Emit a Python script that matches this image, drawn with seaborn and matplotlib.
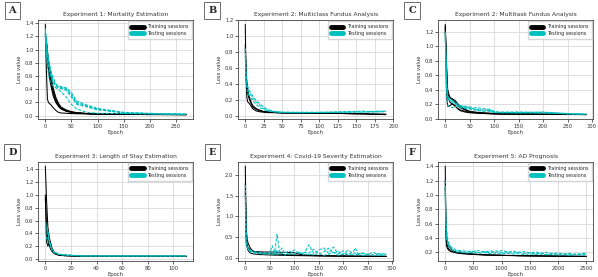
import numpy as np
import pandas as pd
import matplotlib
matplotlib.use("Agg")
import matplotlib.pyplot as plt
import seaborn as sns
from matplotlib.lines import Line2D

sns.set_style("ticks")

# ------------------------------------------------------------
# Data (loss value per epoch, per session)
# ------------------------------------------------------------
titles = ["Experiment 1: Mortality Estimation",
          "Experiment 2: Multiclass Fundus Analysis",
          "Experiment 2: Multitask Fundus Analysis",
          "Experiment 3: Length of Stay Estimation",
          "Experiment 4: Covid-19 Severity Estimation",
          "Experiment 5: AD Prognosis"]
letters = ["A", "B", "C", "D", "E", "F"]

# A - mortality
a_ep = [0, 2, 4, 6, 8, 10, 15, 20, 25, 30, 40, 50, 60, 80, 100, 150, 200, 270]
a_train = [
    [1.38, 0.70, 0.25, 0.20, 0.18, 0.17, 0.12, 0.08, 0.05, 0.04, 0.035, 0.03, 0.028, 0.025, 0.02, 0.02, 0.015, 0.015],
    [1.20, 1.15, 0.95, 0.80, 0.68, 0.58, 0.38, 0.25, 0.17, 0.12, 0.08, 0.055, 0.04, 0.03, 0.025, 0.02, 0.018, 0.015],
    [1.22, 1.10, 0.90, 0.74, 0.62, 0.52, 0.34, 0.22, 0.15, 0.11, 0.07, 0.05, 0.04, 0.03, 0.025, 0.02, 0.018, 0.015],
    [1.18, 1.12, 0.98, 0.84, 0.72, 0.62, 0.42, 0.28, 0.19, 0.13, 0.085, 0.06, 0.045, 0.032, 0.026, 0.02, 0.018, 0.016],
    [1.25, 1.05, 0.85, 0.70, 0.58, 0.48, 0.30, 0.20, 0.14, 0.10, 0.065, 0.048, 0.038, 0.03, 0.024, 0.02, 0.017, 0.015],
]
a_test = [
    [1.30, 1.10, 0.95, 0.85, 0.75, 0.68, 0.55, 0.47, 0.44, 0.43, 0.41, 0.33, 0.20, 0.15, 0.10, 0.04, 0.03, 0.02],
    [1.28, 1.05, 0.90, 0.80, 0.72, 0.64, 0.52, 0.45, 0.43, 0.42, 0.40, 0.30, 0.18, 0.14, 0.09, 0.045, 0.03, 0.025],
    [1.32, 1.12, 0.98, 0.88, 0.78, 0.70, 0.58, 0.48, 0.45, 0.44, 0.42, 0.35, 0.22, 0.16, 0.11, 0.05, 0.035, 0.02],
    [1.25, 0.95, 0.75, 0.62, 0.55, 0.50, 0.45, 0.42, 0.40, 0.36, 0.28, 0.17, 0.10, 0.05, 0.035, 0.03, 0.025, 0.02],
    [1.20, 1.00, 0.85, 0.75, 0.66, 0.60, 0.50, 0.44, 0.42, 0.41, 0.38, 0.28, 0.17, 0.13, 0.09, 0.04, 0.03, 0.02],
]

# B - multiclass fundus
b_ep = [0, 1, 2, 3, 5, 8, 10, 15, 20, 25, 30, 40, 50, 75, 100, 125, 150, 160, 170, 180, 190]
b_train = [
    [1.15, 0.50, 0.25, 0.18, 0.16, 0.12, 0.09, 0.06, 0.05, 0.045, 0.04, 0.04, 0.035, 0.035, 0.03, 0.03, 0.025, 0.025, 0.02, 0.018, 0.015],
    [0.90, 0.60, 0.45, 0.35, 0.25, 0.17, 0.13, 0.09, 0.07, 0.055, 0.05, 0.045, 0.04, 0.035, 0.03, 0.03, 0.025, 0.025, 0.02, 0.02, 0.018],
    [0.85, 0.55, 0.40, 0.30, 0.22, 0.15, 0.11, 0.08, 0.06, 0.05, 0.045, 0.04, 0.035, 0.035, 0.03, 0.03, 0.028, 0.025, 0.022, 0.02, 0.02],
]
b_test = [
    [0.85, 0.55, 0.42, 0.38, 0.33, 0.28, 0.25, 0.19, 0.15, 0.11, 0.08, 0.055, 0.045, 0.045, 0.045, 0.05, 0.055, 0.06, 0.05, 0.06, 0.055],
    [0.80, 0.50, 0.40, 0.35, 0.30, 0.25, 0.22, 0.17, 0.13, 0.09, 0.07, 0.05, 0.045, 0.04, 0.042, 0.045, 0.05, 0.045, 0.055, 0.05, 0.06],
    [0.75, 0.45, 0.35, 0.30, 0.26, 0.22, 0.19, 0.14, 0.10, 0.08, 0.06, 0.048, 0.042, 0.04, 0.04, 0.042, 0.045, 0.05, 0.045, 0.05, 0.05],
]

# C - multitask fundus
c_ep = [0, 3, 5, 8, 10, 15, 20, 25, 30, 40, 50, 60, 75, 90, 100, 110, 150, 200, 250, 288]
c_train = [
    [1.30, 0.70, 0.40, 0.32, 0.29, 0.27, 0.25, 0.21, 0.17, 0.13, 0.10, 0.09, 0.08, 0.075, 0.07, 0.07, 0.065, 0.06, 0.06, 0.055],
    [1.25, 0.60, 0.35, 0.30, 0.28, 0.26, 0.23, 0.19, 0.15, 0.12, 0.09, 0.085, 0.075, 0.07, 0.068, 0.065, 0.063, 0.06, 0.058, 0.055],
    [1.20, 0.30, 0.17, 0.17, 0.18, 0.20, 0.18, 0.14, 0.11, 0.09, 0.08, 0.075, 0.07, 0.065, 0.063, 0.06, 0.06, 0.058, 0.055, 0.055],
    [1.28, 0.55, 0.30, 0.25, 0.22, 0.20, 0.17, 0.14, 0.12, 0.10, 0.085, 0.08, 0.072, 0.068, 0.065, 0.063, 0.06, 0.058, 0.056, 0.054],
]
c_test = [
    [1.20, 0.50, 0.32, 0.28, 0.27, 0.25, 0.22, 0.20, 0.18, 0.17, 0.16, 0.15, 0.14, 0.13, 0.10, 0.09, 0.09, 0.085, 0.07, 0.06],
    [1.15, 0.45, 0.30, 0.26, 0.25, 0.23, 0.21, 0.19, 0.17, 0.16, 0.15, 0.13, 0.12, 0.12, 0.09, 0.085, 0.08, 0.09, 0.065, 0.06],
    [1.10, 0.30, 0.18, 0.17, 0.16, 0.15, 0.17, 0.16, 0.15, 0.14, 0.13, 0.12, 0.11, 0.10, 0.085, 0.08, 0.085, 0.08, 0.065, 0.06],
    [1.18, 0.40, 0.28, 0.25, 0.24, 0.22, 0.20, 0.18, 0.16, 0.15, 0.14, 0.12, 0.10, 0.11, 0.09, 0.08, 0.075, 0.075, 0.065, 0.06],
]

# D - length of stay
d_ep = [0, 1, 2, 3, 4, 5, 7, 10, 12, 15, 20, 25, 30, 50, 80, 110]
d_train = [
    [1.45, 0.90, 0.50, 0.35, 0.25, 0.18, 0.10, 0.07, 0.06, 0.055, 0.05, 0.045, 0.042, 0.04, 0.04, 0.04],
    [1.00, 0.26, 0.20, 0.25, 0.27, 0.15, 0.09, 0.06, 0.055, 0.05, 0.045, 0.042, 0.04, 0.04, 0.04, 0.038],
    [0.95, 0.50, 0.30, 0.22, 0.16, 0.12, 0.08, 0.06, 0.055, 0.05, 0.045, 0.043, 0.042, 0.04, 0.04, 0.04],
]
d_test = [
    [0.58, 0.52, 0.45, 0.30, 0.20, 0.15, 0.11, 0.08, 0.07, 0.065, 0.06, 0.05, 0.045, 0.045, 0.045, 0.045],
    [0.55, 0.48, 0.40, 0.28, 0.22, 0.16, 0.10, 0.075, 0.065, 0.06, 0.055, 0.05, 0.045, 0.044, 0.044, 0.044],
    [0.50, 0.30, 0.25, 0.26, 0.24, 0.14, 0.09, 0.07, 0.065, 0.06, 0.05, 0.048, 0.046, 0.045, 0.045, 0.045],
]

# E - covid severity (noisy testing curves)
e_ep = [0, 2, 4, 6, 10, 15, 20, 30, 40, 50, 55, 60, 65, 70, 75, 80, 90, 100, 110, 120,
        130, 140, 150, 160, 170, 180, 190, 200, 210, 220, 225, 230, 240, 250, 260, 270, 280, 288]
e_train = [
    [2.20, 0.70, 0.45, 0.35, 0.25, 0.18, 0.15, 0.13, 0.12, 0.11, 0.105, 0.10, 0.10, 0.095, 0.09, 0.09, 0.085, 0.08, 0.075, 0.07,
     0.068, 0.065, 0.062, 0.06, 0.058, 0.056, 0.055, 0.054, 0.053, 0.052, 0.051, 0.05, 0.05, 0.049, 0.048, 0.048, 0.047, 0.046],
    [1.80, 0.50, 0.30, 0.25, 0.20, 0.17, 0.16, 0.155, 0.15, 0.15, 0.15, 0.148, 0.146, 0.145, 0.143, 0.14, 0.14, 0.13, 0.10, 0.08,
     0.075, 0.07, 0.066, 0.063, 0.06, 0.058, 0.056, 0.055, 0.054, 0.053, 0.052, 0.05, 0.05, 0.049, 0.048, 0.047, 0.046, 0.046],
    [1.60, 0.40, 0.25, 0.18, 0.13, 0.11, 0.10, 0.09, 0.085, 0.08, 0.078, 0.076, 0.075, 0.073, 0.072, 0.07, 0.068, 0.066, 0.064, 0.062,
     0.06, 0.058, 0.056, 0.055, 0.054, 0.053, 0.052, 0.051, 0.05, 0.05, 0.049, 0.048, 0.048, 0.047, 0.046, 0.046, 0.045, 0.045],
]
e_test = [
    [1.75, 0.30, 0.28, 0.25, 0.20, 0.17, 0.15, 0.14, 0.13, 0.12, 0.30, 0.14, 0.58, 0.15, 0.25, 0.12, 0.18, 0.10, 0.14, 0.12,
     0.32, 0.11, 0.20, 0.25, 0.12, 0.27, 0.10, 0.18, 0.09, 0.15, 0.25, 0.10, 0.13, 0.08, 0.15, 0.10, 0.12, 0.09],
    [1.50, 0.35, 0.25, 0.22, 0.18, 0.16, 0.14, 0.13, 0.12, 0.11, 0.15, 0.10, 0.20, 0.12, 0.10, 0.16, 0.09, 0.20, 0.10, 0.15,
     0.12, 0.22, 0.10, 0.15, 0.24, 0.12, 0.16, 0.09, 0.20, 0.11, 0.13, 0.09, 0.12, 0.10, 0.08, 0.11, 0.08, 0.10],
    [1.30, 0.45, 0.30, 0.20, 0.16, 0.14, 0.12, 0.11, 0.10, 0.10, 0.09, 0.12, 0.10, 0.09, 0.13, 0.08, 0.11, 0.09, 0.15, 0.08,
     0.10, 0.08, 0.12, 0.07, 0.10, 0.14, 0.07, 0.11, 0.08, 0.09, 0.07, 0.13, 0.07, 0.09, 0.07, 0.08, 0.07, 0.07],
]

# F - AD prognosis (noisy testing curves)
f_ep = [0, 10, 20, 40, 60, 100, 150, 200, 300, 400, 500, 600, 700, 800, 900, 1000, 1100, 1200, 1300, 1400,
        1500, 1600, 1700, 1800, 1900, 2000, 2100, 2200, 2300, 2400, 2500]
f_train = [
    [1.40, 0.60, 0.30, 0.25, 0.23, 0.21, 0.20, 0.19, 0.18, 0.175, 0.17, 0.165, 0.162, 0.16, 0.158, 0.156, 0.155, 0.154, 0.152, 0.151,
     0.15, 0.149, 0.148, 0.147, 0.146, 0.145, 0.145, 0.144, 0.143, 0.142, 0.142],
    [1.20, 0.70, 0.45, 0.35, 0.30, 0.25, 0.22, 0.20, 0.19, 0.18, 0.175, 0.17, 0.165, 0.162, 0.16, 0.158, 0.156, 0.155, 0.153, 0.152,
     0.151, 0.15, 0.149, 0.148, 0.147, 0.146, 0.145, 0.145, 0.144, 0.143, 0.143],
    [1.10, 0.55, 0.35, 0.28, 0.25, 0.22, 0.205, 0.195, 0.185, 0.178, 0.172, 0.168, 0.164, 0.161, 0.159, 0.157, 0.155, 0.154, 0.152, 0.151,
     0.15, 0.149, 0.148, 0.147, 0.146, 0.146, 0.145, 0.144, 0.143, 0.143, 0.142],
]
f_test = [
    [1.20, 0.70, 0.55, 0.40, 0.33, 0.28, 0.25, 0.23, 0.22, 0.215, 0.21, 0.225, 0.205, 0.22, 0.20, 0.225, 0.205, 0.215, 0.195, 0.21,
     0.19, 0.205, 0.185, 0.20, 0.18, 0.19, 0.175, 0.185, 0.17, 0.18, 0.185],
    [1.10, 0.60, 0.45, 0.35, 0.30, 0.26, 0.23, 0.215, 0.205, 0.20, 0.215, 0.195, 0.21, 0.19, 0.22, 0.195, 0.20, 0.185, 0.205, 0.18,
     0.195, 0.175, 0.19, 0.17, 0.185, 0.17, 0.18, 0.165, 0.175, 0.17, 0.175],
    [1.00, 0.55, 0.40, 0.32, 0.28, 0.25, 0.22, 0.205, 0.20, 0.19, 0.20, 0.185, 0.195, 0.18, 0.19, 0.178, 0.185, 0.175, 0.18, 0.17,
     0.178, 0.168, 0.175, 0.165, 0.17, 0.162, 0.168, 0.16, 0.165, 0.16, 0.165],
]

panels = [
    (a_ep, a_train, a_test),
    (b_ep, b_train, b_test),
    (c_ep, c_train, c_test),
    (d_ep, d_train, d_test),
    (e_ep, e_train, e_test),
    (f_ep, f_train, f_test),
]
xticks = [
    [0, 50, 100, 150, 200, 250],
    [0, 25, 50, 75, 100, 125, 150, 175, 200],
    [0, 50, 100, 150, 200, 250, 300],
    [0, 20, 40, 60, 80, 100],
    [0, 50, 100, 150, 200, 250, 300],
    [0, 500, 1000, 1500, 2000, 2500],
]


def to_long(ep, train, test):
    rows = []
    for i, s in enumerate(train):
        for x, y in zip(ep, s):
            rows.append(("Training", "tr%d" % i, x, y))
    for i, s in enumerate(test):
        for x, y in zip(ep, s):
            rows.append(("Testing", "te%d" % i, x, y))
    return pd.DataFrame(rows, columns=["kind", "session", "epoch", "loss"])


fig, axes = plt.subplots(2, 3, figsize=(5.98, 2.77), dpi=100)
plt.subplots_adjust(left=0.064, right=0.992, top=0.928, bottom=0.058,
                    wspace=0.29, hspace=0.43)

cyan = "#00c0c0"
palette = {"Training": "black", "Testing": cyan}
for k, ax in enumerate(axes.flat):
    ep, train, test = panels[k]
    df = to_long(ep, train, test)
    sns.lineplot(data=df, x="epoch", y="loss", hue="kind", style="kind",
                 units="session", estimator=None, palette=palette,
                 dashes={"Training": "", "Testing": (3, 1.5)},
                 lw=0.75, legend=False, ax=ax)
    ax.set_title(titles[k], fontsize=4.3, pad=2.5, color="#333333")
    ax.set_xlabel("Epoch", fontsize=3.8, labelpad=1, color="#333333")
    ax.set_ylabel("Loss value", fontsize=3.8, labelpad=2, color="#333333")
    ax.set_xticks(xticks[k])
    ax.tick_params(labelsize=3.8, length=2, width=0.5, pad=1.5, labelcolor="#333333")
    ax.grid(True, color="#dddddd", lw=0.7)
    for sp in ax.spines.values():
        sp.set_linewidth(0.6)
        sp.set_color("#444444")
    handles = [Line2D([], [], color="black", lw=3.5),
               Line2D([], [], color=cyan, lw=3.5)]
    ax.legend(handles, ["Training sessions", "Testing sessions"], loc="upper right",
              fontsize=3.5, handlelength=2.5, frameon=True, borderpad=0.6,
              labelspacing=0.35, borderaxespad=0.3, fancybox=False,
              edgecolor="#cccccc")
    pos = ax.get_position()
    fig.text(pos.x0 - 26 / 598, pos.y1 + 0.035, letters[k],
             fontsize=7, fontweight="bold", family="serif", ha="center", va="center",
             bbox=dict(boxstyle="square,pad=0.4", fc="white", ec="#555555", lw=0.6))

plt.savefig("out.png", dpi=100)
